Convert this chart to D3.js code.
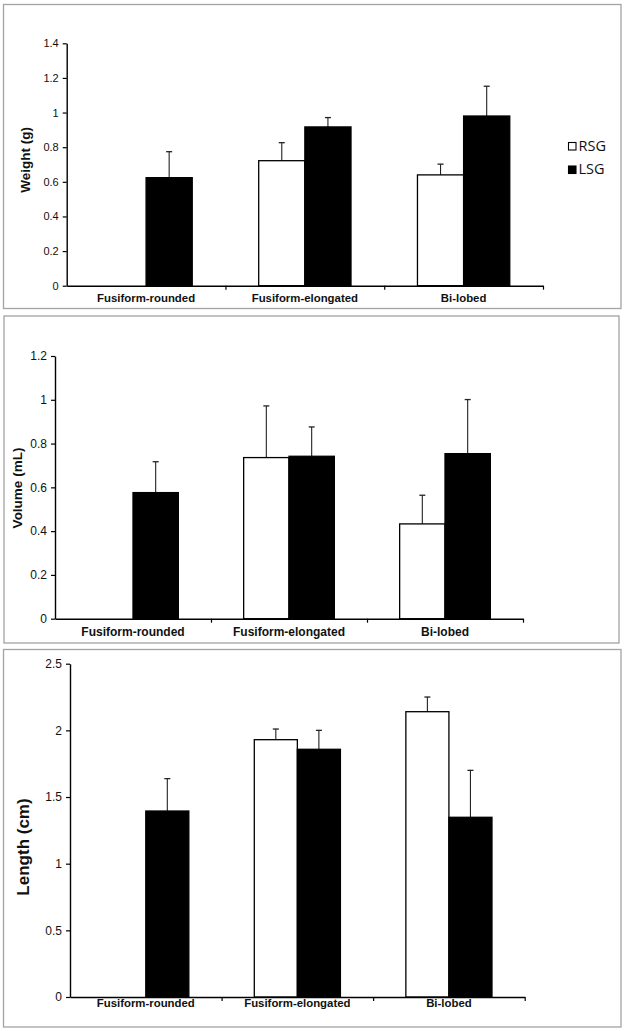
<!DOCTYPE html>
<html>
<head>
<meta charset="utf-8">
<script src="https://cdn.jsdelivr.net/npm/d3@7"></script>
<style>
  html, body { margin: 0; padding: 0; background: #fff; }
  svg { display: block; }
</style>
</head>
<body>
<svg id="chart" width="627" height="1031"></svg>
<script>
// ---------------- DATA ----------------
const categories = ["Fusiform-rounded", "Fusiform-elongated", "Bi-lobed"];
const seriesNames = ["RSG", "LSG"];

const weightRSG    = [null, 0.722, 0.640];
const weightRSGErr = [null, 0.104, 0.062];
const weightLSG    = [0.624, 0.917, 0.980];
const weightLSGErr = [0.150, 0.054, 0.172];

const volumeRSG    = [null, 0.736, 0.433];
const volumeRSGErr = [null, 0.236, 0.131];
const volumeLSG    = [0.576, 0.742, 0.754];
const volumeLSGErr = [0.141, 0.134, 0.247];

const lengthRSG    = [null, 1.930, 2.140];
const lengthRSGErr = [null, 0.080, 0.110];
const lengthLSG    = [1.395, 1.858, 1.348];
const lengthLSGErr = [0.243, 0.142, 0.352];

const weightTicks = [0, 0.2, 0.4, 0.6, 0.8, 1, 1.2, 1.4];
const volumeTicks = [0, 0.2, 0.4, 0.6, 0.8, 1, 1.2];
const lengthTicks = [0, 0.5, 1, 1.5, 2, 2.5];

const weightTitle = "Weight (g)";
const volumeTitle = "Volume (mL)";
const lengthTitle = "Length (cm)";

// ---------------- LAYOUT ----------------
const panels = [
  { title: weightTitle, rsg: weightRSG, rsgErr: weightRSGErr, lsg: weightLSG, lsgErr: weightLSGErr,
    ticks: weightTicks,
    box: [3.5, 4.5, 621, 308.5], x0: 66.7, x1: 543, yTop: 43.3, yBot: 285.7,
    pad: 0.72, tickFont: 11, catFont: 11.4, catBase: 301.5,
    titleX: 25, titleY: 160, titleFont: 13.5, legend: true },
  { title: volumeTitle, rsg: volumeRSG, rsgErr: volumeRSGErr, lsg: volumeLSG, lsgErr: volumeLSGErr,
    ticks: volumeTicks,
    box: [4, 316, 619, 643], x0: 55, x1: 523, yTop: 356, yBot: 618.7,
    pad: 0.72, tickFont: 12, catFont: 12, catBase: 636,
    titleX: 17, titleY: 488, titleFont: 13.5, legend: false },
  { title: lengthTitle, rsg: lengthRSG, rsgErr: lengthRSGErr, lsg: lengthLSG, lsgErr: lengthLSGErr,
    ticks: lengthTicks,
    box: [3.5, 649.5, 621, 1027], x0: 70, x1: 524.7, yTop: 663.7, yBot: 997,
    pad: 0.76, tickFont: 12, catFont: 11.4, catBase: 1007,
    titleX: 23, titleY: 847, titleFont: 17, legend: false }
];

const svg = d3.select("#chart");
const fill = { RSG: "#ffffff", LSG: "#000000" };
const fmt = d => String(+(+d).toFixed(1));

panels.forEach(p => {
  const g = svg.append("g");

  // panel frame
  g.append("rect")
    .attr("x", p.box[0]).attr("y", p.box[1])
    .attr("width", p.box[2] - p.box[0]).attr("height", p.box[3] - p.box[1])
    .attr("fill", "none").attr("stroke", "#a3a3a3").attr("stroke-width", 1.3);

  const yMax = p.ticks[p.ticks.length - 1];
  const y = d3.scaleLinear().domain([0, yMax]).range([p.yBot, p.yTop]);
  const x = d3.scaleBand().domain(categories).range([p.x0, p.x1]).paddingInner(0).paddingOuter(0);
  const xs = d3.scaleBand().domain(seriesNames).range([0, x.bandwidth()]).paddingInner(0).paddingOuter(p.pad);

  const rows = [];
  categories.forEach((c, i) => {
    rows.push({ cat: c, s: "RSG", v: p.rsg[i], e: p.rsgErr[i] });
    rows.push({ cat: c, s: "LSG", v: p.lsg[i], e: p.lsgErr[i] });
  });
  const valid = rows.filter(r => r.v != null);

  // error bars (drawn first, bars on top)
  const eg = g.append("g");
  valid.forEach(r => {
    const cx = x(r.cat) + xs(r.s) + xs.bandwidth() / 2;
    eg.append("line").attr("x1", cx).attr("x2", cx)
      .attr("y1", y(r.v)).attr("y2", y(r.v + r.e))
      .attr("stroke", "#222").attr("stroke-width", 1.1);
    eg.append("line").attr("x1", cx - 3).attr("x2", cx + 3)
      .attr("y1", y(r.v + r.e)).attr("y2", y(r.v + r.e))
      .attr("stroke", "#222").attr("stroke-width", 1.3);
  });

  // bars
  g.append("g").selectAll("rect").data(valid).join("rect")
    .attr("x", r => x(r.cat) + xs(r.s))
    .attr("y", r => y(r.v))
    .attr("width", xs.bandwidth())
    .attr("height", r => y(0) - y(r.v))
    .attr("fill", r => fill[r.s])
    .attr("stroke", "#000").attr("stroke-width", 1.3);

  // y axis
  const ya = g.append("g").attr("transform", `translate(${p.x0},0)`)
    .call(d3.axisLeft(y).tickValues(p.ticks).tickFormat(fmt).tickSize(4).tickSizeOuter(0).tickPadding(4));
  ya.select(".domain").attr("stroke", "#000").attr("stroke-width", 1.4);
  ya.selectAll(".tick line").attr("stroke", "#000").attr("stroke-width", 1.2);
  ya.selectAll(".tick text").attr("font-family", "'Liberation Sans', Arial, sans-serif")
    .attr("font-size", p.tickFont).attr("fill", "#111");

  // x axis: baseline with boundary ticks
  const xb = d3.scaleLinear().domain([0, categories.length]).range([p.x0, p.x1]);
  const xa = g.append("g").attr("transform", `translate(0,${p.yBot})`)
    .call(d3.axisBottom(xb).tickValues(d3.range(1, categories.length + 1)).tickFormat("").tickSize(4).tickSizeOuter(0));
  xa.select(".domain").attr("stroke", "#000").attr("stroke-width", 1.4);
  xa.selectAll(".tick line").attr("stroke", "#000").attr("stroke-width", 1.2);

  // category labels
  g.append("g").selectAll("text").data(categories).join("text")
    .attr("x", c => x(c) + x.bandwidth() / 2)
    .attr("y", p.catBase)
    .attr("text-anchor", "middle")
    .attr("font-family", "'Liberation Sans', Arial, sans-serif")
    .attr("font-weight", "bold")
    .attr("font-size", p.catFont)
    .attr("fill", "#111")
    .text(c => c);

  // y title
  g.append("text")
    .attr("transform", `translate(${p.titleX},${p.titleY}) rotate(-90)`)
    .attr("text-anchor", "middle")
    .attr("dominant-baseline", "central")
    .attr("font-family", "'Liberation Sans', Arial, sans-serif")
    .attr("font-weight", "bold")
    .attr("font-size", p.titleFont)
    .attr("fill", "#111")
    .text(p.title);

  // legend
  if (p.legend) {
    const lg = g.append("g").attr("transform", "translate(568,142)");
    seriesNames.forEach((s, i) => {
      const row = lg.append("g").attr("transform", `translate(0,${i * 23.5})`);
      row.append("rect").attr("x", 0.5).attr("y", 0.5).attr("width", 7.5).attr("height", 7.5)
        .attr("fill", fill[s]).attr("stroke", "#000").attr("stroke-width", 1.1);
      row.append("text").attr("x", 10.5).attr("y", 8.6)
        .attr("font-family", "'Open Sans', sans-serif")
        .attr("font-size", 14.5)
        .attr("fill", "#111")
        .text(s);
    });
  }
});
</script>
</body>
</html>
